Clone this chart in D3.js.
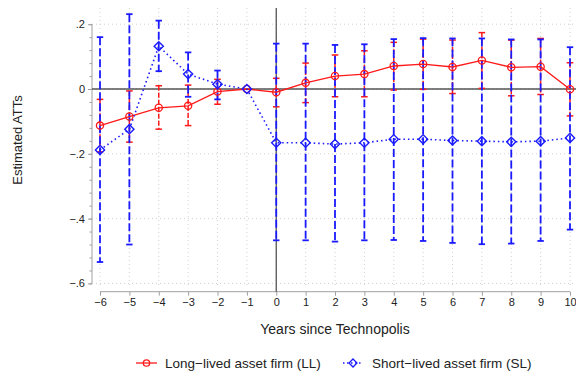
<!DOCTYPE html>
<html><head><meta charset="utf-8">
<script src="https://cdn.jsdelivr.net/npm/d3@7"></script>
<style>body{margin:0;background:#fff}svg{display:block;font-family:"Liberation Sans",Arial,sans-serif}</style>
</head><body><svg id="c" width="576" height="377"></svg>
<script>
const years = [-6,-5,-4,-3,-2,-1,0,1,2,3,4,5,6,7,8,9,10];
const llEst = [-0.113,-0.085,-0.058,-0.052,-0.008,0,-0.010,0.019,0.040,0.046,0.071,0.077,0.068,0.088,0.067,0.069,-0.001];
const llHi  = [-0.032,-0.006,0.010,0.012,0.030,0,0.033,0.080,0.105,0.118,0.144,0.154,0.151,0.174,0.151,0.156,0.081];
const llLo  = [-0.194,-0.164,-0.124,-0.113,-0.047,0,-0.055,-0.042,-0.024,-0.024,-0.003,-0.001,-0.014,0.002,-0.021,-0.017,-0.083];
const slEst = [-0.188,-0.124,0.132,0.046,0.015,0,-0.166,-0.166,-0.170,-0.166,-0.155,-0.155,-0.159,-0.161,-0.163,-0.161,-0.151];
const slHi  = [0.160,0.231,0.211,0.113,0.057,0,0.140,0.140,0.136,0.138,0.154,0.157,0.156,0.156,0.153,0.153,0.129];
const slLo  = [-0.534,-0.480,0.055,-0.024,-0.032,0,-0.467,-0.467,-0.471,-0.467,-0.466,-0.469,-0.475,-0.479,-0.477,-0.469,-0.434];
const yTicks = [0.2,0,-0.2,-0.4,-0.6];
const yMinor = d3.range(-0.6,0.2001,0.04);
const xTicks = years;
const legendLabels = ["Long\u2212lived asset firm (LL)","Short\u2212lived asset firm (SL)"];

const svg = d3.select("#c");
const x = d3.scaleLinear().domain([-6,10]).range([100,570]);
const y = d3.scaleLinear().domain([-0.6,0.2]).range([283.4,24.2]);
const pTop = 8, pBottom = 287, pLeft = 92, pRight = 576;
const fmt = v => v===0 ? "0" : (v<0?"\u2212":"") + String(Math.abs(v)).replace(/^0/,"");

// grid
svg.append("g").selectAll("line").data(yTicks).join("line")
  .attr("x1",pLeft).attr("x2",pRight).attr("y1",d=>y(d)).attr("y2",d=>y(d))
  .attr("stroke","#d0d0d0").attr("stroke-width",1).attr("stroke-dasharray","1,3");
svg.append("g").selectAll("line").data(xTicks).join("line")
  .attr("x1",d=>x(d)).attr("x2",d=>x(d)).attr("y1",pTop).attr("y2",pBottom)
  .attr("stroke","#d0d0d0").attr("stroke-width",1).attr("stroke-dasharray","1,3");

// axes
const ya = svg.append("g").attr("transform",`translate(${pLeft},0)`)
  .call(d3.axisLeft(y).tickValues(yTicks).tickFormat(fmt).tickSize(4).tickPadding(3));
svg.append("g").attr("transform",`translate(${pLeft},0)`)
  .call(d3.axisLeft(y).tickValues(yMinor).tickFormat("").tickSize(2.5))
  .call(g=>g.select(".domain").remove());
const xa = svg.append("g").attr("transform",`translate(0,${291.7})`)
  .call(d3.axisBottom(x).tickValues(xTicks).tickFormat(fmt).tickSize(4).tickPadding(3));
svg.selectAll(".domain").attr("stroke","#a0a0a0");
svg.selectAll(".tick line").attr("stroke","#a0a0a0");
svg.selectAll(".tick text").attr("font-size",11).attr("fill","#222").attr("font-family","'Liberation Sans',Arial,sans-serif");
ya.select(".domain").attr("d",`M0,${y(0.2)}V${y(-0.6)}`);
xa.select(".domain").attr("d",`M${x(-6)},0H${x(10)}`);

// reference lines
svg.append("line").attr("x1",pLeft).attr("x2",pRight).attr("y1",y(0)).attr("y2",y(0)).attr("stroke","#555").attr("stroke-width",1.3);
svg.append("line").attr("x1",x(0)).attr("x2",x(0)).attr("y1",pTop).attr("y2",291.7).attr("stroke","#555").attr("stroke-width",1.3);

function ci(est,hi,lo,color,w,dash,cap){
  const g = svg.append("g");
  const idx = years.map((d,i)=>i).filter(i=>hi[i]!==lo[i]);
  g.selectAll("line.v").data(idx).join("line")
    .attr("x1",i=>x(years[i])).attr("x2",i=>x(years[i]))
    .attr("y1",i=>y(hi[i])).attr("y2",i=>y(lo[i]))
    .attr("stroke",color).attr("stroke-width",w).attr("stroke-dasharray",dash);
  [hi,lo].forEach(arr=>{
    g.selectAll(null).data(idx).join("line")
      .attr("x1",i=>x(years[i])-cap).attr("x2",i=>x(years[i])+cap)
      .attr("y1",i=>y(arr[i])).attr("y2",i=>y(arr[i]))
      .attr("stroke",color).attr("stroke-width",w);
  });
}
ci(llEst,llHi,llLo,"#ff1a1a",1.5,"5,2",3.3);
ci(slEst,slHi,slLo,"#1a1aff",1.8,"8,3",3.2);

const line = d3.line().x((d,i)=>x(years[i])).y(d=>y(d));
svg.append("path").attr("d",line(llEst)).attr("fill","none").attr("stroke","#ff1a1a").attr("stroke-width",1.3);
svg.append("path").attr("d",line(slEst)).attr("fill","none").attr("stroke","#1a1aff").attr("stroke-width",1.6).attr("stroke-dasharray","1.5,3");

svg.append("g").selectAll("circle").data(llEst).join("circle")
  .attr("cx",(d,i)=>x(years[i])).attr("cy",d=>y(d)).attr("r",3.6)
  .attr("fill","none").attr("stroke","#ff1a1a").attr("stroke-width",1.3);
const diamond = (cx,cy,r)=>`M${cx},${cy-r}L${cx+r},${cy}L${cx},${cy+r}L${cx-r},${cy}Z`;
svg.append("g").selectAll("path").data(slEst).join("path")
  .attr("d",(d,i)=>diamond(x(years[i]),y(d),4.6))
  .attr("fill","none").attr("stroke","#1a1aff").attr("stroke-width",1.4);

// titles
svg.append("text").attr("x",335).attr("y",334).attr("text-anchor","middle").attr("font-size",14).attr("fill","#222").text("Years since Technopolis");
svg.append("text").attr("transform","translate(22,140) rotate(-90)").attr("text-anchor","middle").attr("font-size",13).attr("fill","#222").text("Estimated ATTs");

// legend
const lg = svg.append("g");
lg.append("line").attr("x1",136).attr("x2",157).attr("y1",363).attr("y2",363).attr("stroke","#ff1a1a").attr("stroke-width",1.3);
lg.append("circle").attr("cx",146.5).attr("cy",363).attr("r",3.2).attr("fill","none").attr("stroke","#ff1a1a").attr("stroke-width",1.3);
lg.append("text").attr("x",165).attr("y",368).attr("font-size",13.5).attr("fill","#222").text(legendLabels[0]);
lg.append("line").attr("x1",343).attr("x2",363).attr("y1",363).attr("y2",363).attr("stroke","#1a1aff").attr("stroke-width",1.5).attr("stroke-dasharray","1.5,2.5");
lg.append("path").attr("d",diamond(353,363,4)).attr("fill","none").attr("stroke","#1a1aff").attr("stroke-width",1.3);
lg.append("text").attr("x",372).attr("y",368).attr("font-size",13.5).attr("fill","#222").text(legendLabels[1]);
</script></body></html>
